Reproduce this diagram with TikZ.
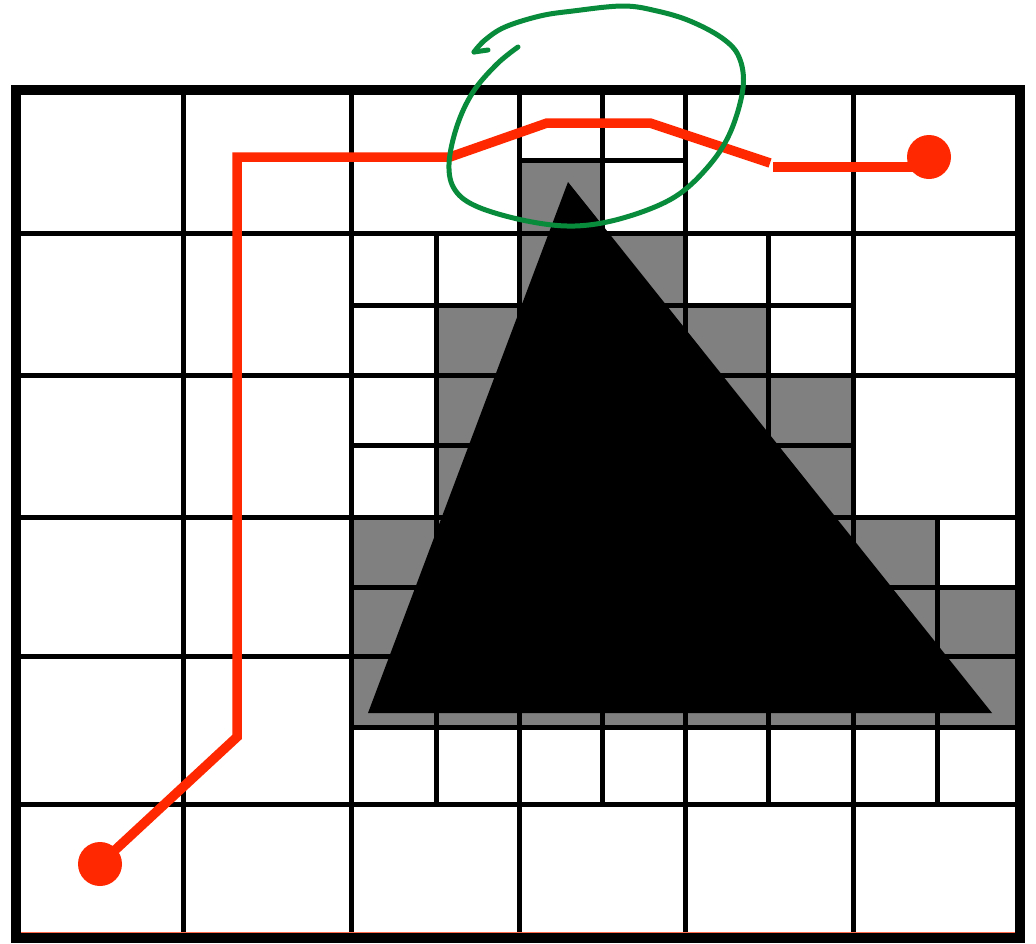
\documentclass[tikz,border=0pt]{standalone}
\definecolor{pathred}{RGB}{255,40,0}
\definecolor{loopgreen}{RGB}{8,140,60}
\definecolor{cellgray}{RGB}{128,128,128}
\begin{document}
\begin{tikzpicture}[x=1pt,y=-1pt,
  gridline/.style={line width=5pt},
  border/.style={line width=10pt},
  graycell/.style={fill=cellgray},
  route/.style={draw=pathred, line width=9.5pt, line join=miter},
  endpoint/.style={circle, fill=pathred, minimum size=44pt, inner sep=0pt},
  loopstroke/.style={draw=loopgreen, line width=5pt, line cap=round, line join=round}]
\useasboundingbox (0,0) rectangle (1036,943);
\fill[white] (0,0) rectangle (1036,943);

% gray (occupied) cells
\fill[graycell] (519,160) rectangle (602,233);
\fill[graycell] (519,233) rectangle (685,375);
\fill[graycell] (436,305) rectangle (519,375);
\fill[graycell] (685,305) rectangle (768,375);
\fill[graycell] (436,375) rectangle (519,517);
\fill[graycell] (519,375) rectangle (853,656);
\fill[graycell] (351,517) rectangle (519,656);
\fill[graycell] (853,517) rectangle (937,656);
\fill[graycell] (937,587) rectangle (1020,656);
\fill[graycell] (351,656) rectangle (1020,727);

% coarse grid
\foreach \x in {183,351,519,685,853} \draw[gridline] (\x,90) -- (\x,940);
\foreach \y in {233,375,517,656,804} \draw[gridline] (16,\y) -- (1020,\y);

% subdivisions
\draw[gridline] (519,160) -- (685,160);
\draw[gridline] (602,90) -- (602,375);
\draw[gridline] (436,233) -- (436,804);
\draw[gridline] (351,305) -- (853,305);
\draw[gridline] (351,445) -- (519,445);
\draw[gridline] (685,445) -- (853,445);
\draw[gridline] (768,233) -- (768,517);
\draw[gridline] (351,587) -- (519,587);
\draw[gridline] (853,587) -- (1020,587);
\draw[gridline] (937,517) -- (937,804);
\draw[gridline] (351,727) -- (1020,727);
\draw[gridline] (602,656) -- (602,804);
\draw[gridline] (768,656) -- (768,804);

% outer border
\draw[border] (16,90) rectangle (1020,938);

% obstacle
\fill[black] (568,182) -- (368,713) -- (992,713) -- cycle;

% thin red trace along bottom
\draw[pathred!70, line width=1.5pt] (21,932.5) -- (1015,932.5);

% route
\node[endpoint] (start) at (100,864) {};
\node[endpoint] (goal) at (929,157) {};
\coordinate (r1) at (237,737);
\coordinate (r2) at (237,157);
\coordinate (r3) at (450,157);
\coordinate (r4) at (547,123);
\coordinate (r5) at (650,123);
\coordinate (r6) at (770,163);
\coordinate (r7) at (773,167);
\draw[route] (start.center) -- (r1) -- (r2) -- (r3) -- (r4) -- (r5) -- (r6);
\draw[route] (r7) -- (r7 -| goal.center);

% green hand-drawn loop
\draw[loopstroke] plot[smooth, tension=0.6] coordinates {
  (518,47) (497,64) (473,92) (457,126) (449,164) (455,190) (478,207)
  (527,221) (575,226) (623,218) (673,198) (707,168) (730,133) (743,88)
  (739,57) (722,38) (690,21) (657,11) (623,6) (573,11) (540,16) (505,27)
  (485,40) (474,52)};
\draw[loopstroke] (474,52) -- (488,50);
\end{tikzpicture}
\end{document}
